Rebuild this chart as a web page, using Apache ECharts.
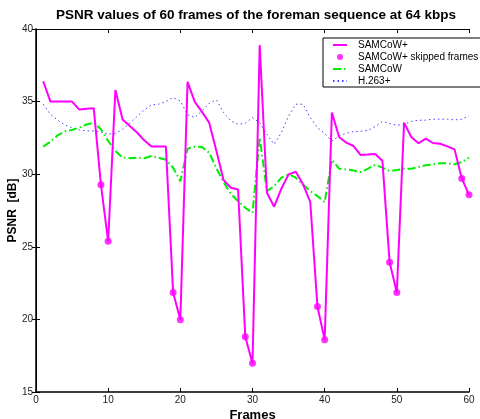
<!DOCTYPE html>
<html><head><meta charset="utf-8">
<script src="https://cdn.jsdelivr.net/npm/echarts@6/dist/echarts.min.js"></script>
<style>html,body{margin:0;padding:0;background:#fff}#c{width:480px;height:419px}</style>
</head><body><div id="c"></div>
<script>
var frames = [];
for (var i = 1; i <= 60; i++) frames.push(i);
var samcowPlus = [36.4,35.0,35.0,35.0,35.0,34.45,34.5,34.55,29.27,25.38,
  35.8,33.76,33.32,32.87,32.33,31.9,31.9,31.9,21.86,19.97,
  36.36,34.98,34.29,33.55,31.6,29.59,29.07,28.95,18.8,16.98,
  38.9,28.72,27.76,29.0,29.99,30.17,29.3,28.1,20.89,18.59,
  34.25,32.56,32.17,31.94,31.32,31.35,31.39,30.93,23.93,21.86,
  33.55,32.56,32.13,32.45,32.15,32.1,31.92,31.71,29.71,28.58];
var skippedFrames = [9,10,19,20,29,30,39,40,49,50,59,60];
var samcow = [31.9,32.24,32.68,32.96,33.05,33.21,33.42,33.56,33.09,32.29,
  31.6,31.14,31.1,31.14,31.1,31.25,31.14,31.0,30.45,29.52,
  31.75,31.9,31.87,31.48,30.4,29.45,28.65,28.14,27.69,27.34,
  32.52,28.83,29.18,29.76,29.99,29.76,29.3,28.83,28.49,28.07,
  31.0,30.38,30.33,30.26,30.15,30.38,30.65,30.45,30.22,30.29,
  30.38,30.38,30.49,30.61,30.68,30.75,30.75,30.68,30.84,31.14];
var h263 = [34.82,34.13,33.72,33.39,33.21,33.05,32.98,32.98,32.91,32.75,
  32.82,33.09,33.51,33.97,34.43,34.77,34.82,35.0,35.28,35.05,
  34.1,33.9,34.36,34.89,35.12,34.24,33.67,33.44,33.51,33.9,
  33.55,32.75,32.06,32.86,34.01,34.82,34.82,33.9,33.21,32.8,
  32.28,32.63,32.82,32.93,32.96,33.02,33.28,33.63,33.49,33.37,
  33.44,33.63,33.72,33.72,33.79,33.79,33.79,33.74,33.79,34.01];
var seriesNames = ['SAMCoW+','SAMCoW+ skipped frames','SAMCoW','H.263+'];
var titleText = 'PSNR values of 60 frames of the foreman sequence at 64 kbps';

function pairs(xs, ys){ return xs.map(function(x,i){return [x, ys[i]];}); }
var skippedData = skippedFrames.map(function(f){ return [f, samcowPlus[f-1]]; });

var FF = 'Liberation Sans, Arial, sans-serif';
var hideSym = {opacity:0};
var chart = echarts.init(document.getElementById('c'), null, {renderer:'canvas'});
chart.setOption({
  animation:false,
  backgroundColor:'#fff',
  title:{text:titleText,left:51,top:3,textStyle:{fontFamily:FF,fontSize:13.5,fontWeight:'bold',color:'#000'}},
  grid:{left:36,right:11,top:29,bottom:27,containLabel:false,outerBoundsMode:'none'},
  legend:{
    orient:'vertical',left:323,top:38,
    data:[{name:seriesNames[0],itemStyle:hideSym},{name:seriesNames[1],icon:'circle'},
          {name:seriesNames[2],itemStyle:hideSym},{name:seriesNames[3],itemStyle:hideSym}],
    itemWidth:14,itemHeight:6,itemGap:0,
    padding:[1,4,0,9],
    backgroundColor:'#fff',borderColor:'#000',borderWidth:1,
    textStyle:{fontFamily:FF,fontSize:10,color:'#000',lineHeight:12,padding:[0,0,0,6]}
  },
  xAxis:[{
    type:'value',min:0,max:60,interval:10,
    name:'Frames',nameLocation:'middle',nameGap:17,nameMoveOverlap:false,
    nameTextStyle:{fontFamily:FF,fontSize:13,fontWeight:'bold',color:'#000'},
    axisLine:{lineStyle:{color:'#000',width:1.5}},
    axisTick:{inside:true,length:4,lineStyle:{color:'#000'}},
    axisLabel:{fontFamily:FF,fontSize:10,color:'#222',margin:3},
    splitLine:{show:false}
  },{
    type:'value',min:0,max:60,interval:10,position:'top',
    axisLine:{lineStyle:{color:'#000',width:1}},
    axisTick:{inside:true,length:4,lineStyle:{color:'#000'}},
    axisLabel:{show:false},splitLine:{show:false}
  }],
  yAxis:[{
    type:'value',min:15,max:40,interval:5,
    name:'PSNR  [dB]',nameLocation:'middle',nameGap:17,nameMoveOverlap:false,
    nameTextStyle:{fontFamily:FF,fontSize:12,fontWeight:'bold',color:'#000'},
    axisLine:{show:true,lineStyle:{color:'#000',width:1.5}},
    axisTick:{show:true,inside:true,length:4,lineStyle:{color:'#000'}},
    axisLabel:{fontFamily:FF,fontSize:10,color:'#222',margin:3},
    splitLine:{show:false}
  },{
    type:'value',min:15,max:40,interval:5,position:'right',
    axisLine:{show:true,lineStyle:{color:'#000',width:1}},
    axisTick:{show:true,inside:true,length:4,lineStyle:{color:'#000'}},
    axisLabel:{show:false},splitLine:{show:false}
  }],
  series:[
    {name:seriesNames[0],type:'line',data:pairs(frames,samcowPlus),symbol:'none',
     itemStyle:{color:'#ff00ff'},lineStyle:{color:'#ff00ff',width:2},z:5},
    {name:seriesNames[1],type:'scatter',data:skippedData,symbol:'circle',symbolSize:7,
     itemStyle:{color:'#ff00ff'},z:6},
    {name:seriesNames[2],type:'line',data:pairs(frames,samcow),symbol:'none',
     itemStyle:{color:'#00ee00'},lineStyle:{color:'#00ee00',width:2,type:[8,3,1.5,3]},z:4},
    {name:seriesNames[3],type:'line',data:pairs(frames,h263),symbol:'none',
     itemStyle:{color:'#4040ff'},lineStyle:{color:'#4040ff',width:1,type:[1.5,3]},z:3}
  ]
});
</script></body></html>
